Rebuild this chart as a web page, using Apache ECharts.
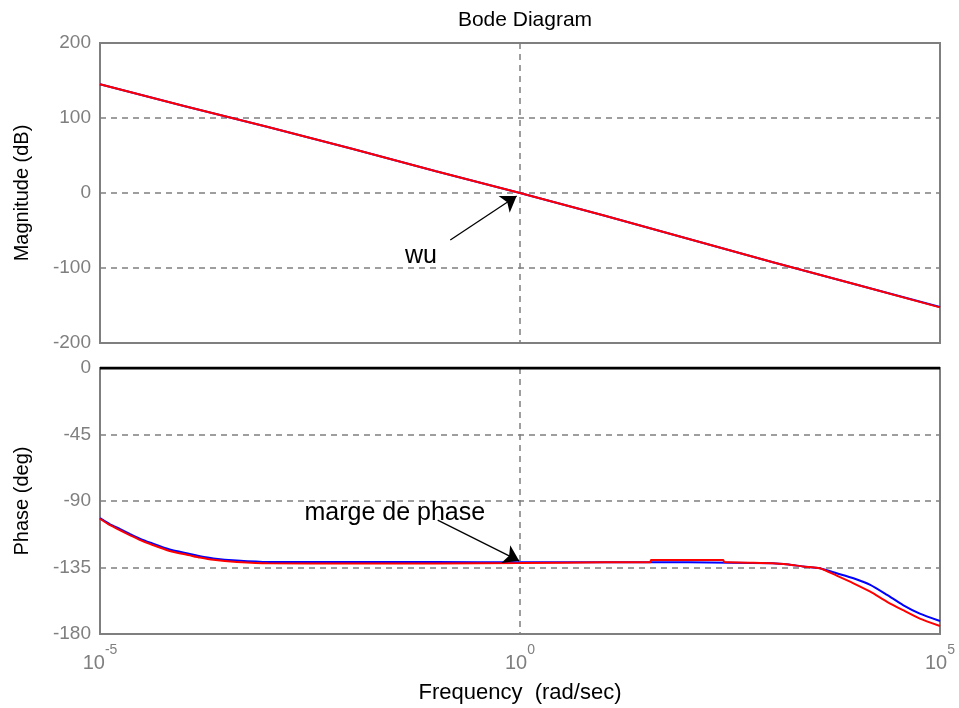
<!DOCTYPE html>
<html><head><meta charset="utf-8">
<script src="https://cdn.jsdelivr.net/npm/echarts@6/dist/echarts.min.js"></script>
<style>html,body{margin:0;padding:0;background:#fff}#c{width:959px;height:708px}</style>
</head><body><div id="c"></div>
<script>
// log10 of frequency (rad/sec)
const magFreq = [-5, -4, -3, -2, -1, 0, 1, 2, 3, 4, 5];
const magBlue = [145, 116, 88, 59, 29, 0, -30, -61, -92, -122, -152];
const magRed  = [145, 116, 88, 59, 29, 0, -30, -61, -92, -122, -152.5];

const phaseFreqBlue = [-5, -4.88, -4.76, -4.64, -4.52, -4.4, -4.17, -3.93, -3.81, -3.65, -3.37, -3, -2, -1, 0, 1, 2, 3.01, 3.2, 3.37, 3.57, 3.77, 3.97, 4.17, 4.37, 4.56, 4.76, 5];
const phaseBlue = [-101.6, -105.8, -109, -112.4, -115.6, -118.2, -122.8, -125.8, -127.4, -128.9, -130.3, -131.3, -131.3, -131.3, -131.5, -131.5, -131.5, -132.1, -133, -134.3, -135.5, -138.9, -142.3, -146.7, -153.5, -160.4, -166.2, -171.2];
const phaseFreqRed = [-5, -4.88, -4.76, -4.64, -4.52, -4.4, -4.17, -3.93, -3.81, -3.65, -3.37, -3, -2, -1, 0, 1, 1.55, 1.56, 2.42, 2.43, 3.01, 3.2, 3.37, 3.57, 3.77, 3.97, 4.17, 4.37, 4.56, 4.76, 5];
const phaseRed = [-102, -106.4, -109.8, -113.2, -116.5, -119.2, -123.8, -126.8, -128.3, -129.8, -131.2, -132.2, -132.3, -132.3, -132, -131.5, -131.5, -130, -130, -131.3, -132.1, -133, -134.3, -135.5, -140.5, -145.7, -151.4, -158.2, -163.9, -169.6, -174.6];

const xTicks = [-5, 0, 5];
const magTicks = [-200, -100, 0, 100, 200];
const phaseTicks = [-180, -135, -90, -45, 0];

const toPairs = (xs, ys) => xs.map((x, i) => [x, ys[i]]);

const FONT = 'Liberation Sans';
const GRAY = '#7f7f7f';

function yAx(grid, min, max, interval, name, right) {
  return {
    type: 'value', gridIndex: grid, min: min, max: max, interval: interval,
    position: right ? 'right' : 'left',
    name: right ? '' : name, nameLocation: 'middle', nameGap: 68,
    nameTextStyle: {color: '#000', fontFamily: FONT, fontSize: 20},
    axisLine: {show: false},
    axisTick: {show: false},
    axisLabel: {show: !right, color: GRAY, fontFamily: FONT, fontSize: 19, margin: 9},
    splitLine: right ? {show: false} : {show: true, showMinLine: false, showMaxLine: false,
      lineStyle: {color: GRAY, type: [6, 5], width: 1.5}}
  };
}
function xAx(grid, labels) {
  return {
    type: 'value', gridIndex: grid, min: -5, max: 5, interval: 5,
    name: labels ? 'Frequency  (rad/sec)' : '', nameLocation: 'middle', nameGap: 48,
    nameTextStyle: {color: '#000', fontFamily: FONT, fontSize: 22},
    axisLine: {show: false},
    axisTick: {show: false},
    axisLabel: {show: labels, margin: 9,
      formatter: v => '{b|10}{s|' + v + '}',
      rich: {
        b: {fontFamily: FONT, fontSize: 20, color: GRAY, lineHeight: 30, verticalAlign: 'bottom'},
        s: {fontFamily: FONT, fontSize: 14, color: GRAY, lineHeight: 30, verticalAlign: 'top'}
      }},
    splitLine: {show: true, showMinLine: false, showMaxLine: false,
      lineStyle: {color: GRAY, type: [6, 5], width: 1.5}}
  };
}

const chart = echarts.init(document.getElementById('c'), null, {renderer: 'canvas'});
chart.setOption({
  animation: false,
  backgroundColor: '#fff',
  title: {text: 'Bode Diagram', left: 520, top: 5, textAlign: 'center',
    textStyle: {color: '#000', fontFamily: FONT, fontSize: 21, fontWeight: 'normal'}},
  grid: [
    {left: 100, top: 43, width: 840, height: 300, show: true, borderColor: GRAY, borderWidth: 2, backgroundColor: '#fff'},
    {left: 100, top: 368, width: 840, height: 266, show: true, borderColor: GRAY, borderWidth: 2, backgroundColor: '#fff'}
  ],
  xAxis: [xAx(0, false), xAx(1, true)],
  yAxis: [
    yAx(0, -200, 200, 100, 'Magnitude (dB)', false),
    yAx(1, -180, 0, 45, 'Phase (deg)', false)
  ],
  series: [
    {type: 'line', xAxisIndex: 0, yAxisIndex: 0, data: toPairs(magFreq, magBlue), symbol: 'none',
      lineStyle: {color: '#0000ff', width: 2}},
    {type: 'line', xAxisIndex: 0, yAxisIndex: 0, data: toPairs(magFreq, magRed), symbol: 'none',
      lineStyle: {color: '#ff0000', width: 2},
      markLine: {silent: true, symbol: ['none', 'arrow'], symbolSize: 15,
        lineStyle: {color: '#000', width: 1.3, type: 'solid'}, label: {show: false},
        data: [[{coord: [-0.83, -62.7], symbol: 'none'}, {coord: [-0.04, -4], symbol: 'arrow', symbolSize: 15}]]},
      markPoint: {symbol: 'circle', symbolSize: 0, silent: true,
        label: {show: true, position: 'inside', formatter: 'wu', color: '#000', fontFamily: FONT, fontSize: 25},
        data: [{coord: [-1.18, -84]}]}},
    {type: 'line', xAxisIndex: 1, yAxisIndex: 1, data: toPairs(phaseFreqBlue, phaseBlue), symbol: 'none',
      smooth: 0.2, lineStyle: {color: '#0000ff', width: 2}},
    {type: 'line', xAxisIndex: 1, yAxisIndex: 1, data: toPairs(phaseFreqRed, phaseRed), symbol: 'none',
      smooth: 0.2, lineStyle: {color: '#ff0000', width: 2},
      markLine: {silent: true, symbol: ['none', 'arrow'], symbolSize: 15,
        lineStyle: {color: '#000', width: 1.3, type: 'solid'}, label: {show: false},
        data: [[{coord: [-0.98, -102.9], symbol: 'none'}, {coord: [-0.01, -130.5], symbol: 'arrow', symbolSize: 15}]]},
      markPoint: {symbol: 'circle', symbolSize: 0, silent: true,
        label: {show: true, position: 'inside', formatter: 'marge de phase', color: '#000', fontFamily: FONT, fontSize: 25},
        data: [{coord: [-1.49, -98.1]}]}},
    {type: 'line', xAxisIndex: 1, yAxisIndex: 1, data: [[-5, 0], [5, 0]], symbol: 'none',
      lineStyle: {color: '#000', width: 3}}
  ]
});
</script></body></html>
